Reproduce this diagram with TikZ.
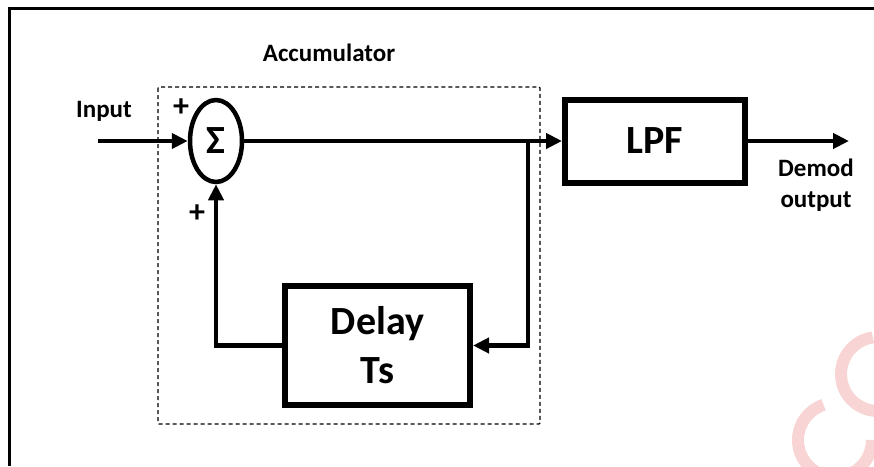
\documentclass[tikz,border=0pt]{standalone}
\usepackage{fontspec}
\setmainfont{Carlito}
\usetikzlibrary{shapes.geometric,arrows.meta}
\definecolor{wmpink}{RGB}{248,212,212}
\tikzset{
  conn/.style={line width=4.5pt, -{Triangle[length=16pt,width=15pt]}},
  block/.style={draw, line width=6pt, rectangle, font=\fontsize{40}{44}\selectfont\bfseries, align=center},
  lbl/.style={font=\fontsize{25}{31}\selectfont\bfseries, align=center, inner sep=0pt},
  sign/.style={font=\fontsize{32}{34}\selectfont\bfseries, inner sep=0pt},
}
\begin{document}
\begin{tikzpicture}[x=1pt, y=-1pt]
  \useasboundingbox (0,0) rectangle (874,466);
  % page frame (open on the right and bottom)
  \draw[line width=3pt] (9,466) -- (9,8) -- (874,8);
  % faint logo mark in the lower right corner
  \draw[wmpink, line width=12pt] (835,440) ++(0:37) arc[start angle=0, end angle=252, radius=37];
  \draw[wmpink, line width=12pt] (878,374) ++(80:37) arc[start angle=80, end angle=262, radius=37];
  % accumulator region
  \draw[line width=1.3pt, dash pattern=on 4pt off 3pt, rounded corners=1pt] (158,87) rectangle (540,424);
  \node[lbl] (acc) at (329,53) {Accumulator};
  % blocks
  \node[draw, ellipse, line width=4.5pt, minimum width=52pt, minimum height=82pt, inner sep=0pt,
        font=\fontsize{40}{44}\selectfont\bfseries] (sum) at (216,141) {Σ};
  \node[block, minimum width=180pt, minimum height=83pt] (lpf) at (655,141) {LPF};
  \node[block, minimum width=185pt, minimum height=119pt, font=\fontsize{40}{49}\selectfont\bfseries] (delay) at (377.5,345.5) {Delay\\Ts};
  % labels
  \node[lbl] (inlbl) at (104,111) {Input};
  \node[sign] (p1) at (181,108) {+};
  \node[sign] (p2) at (197,214) {+};
  \node[lbl] (outlbl) at (816,185) {Demod\\output};
  % connection points
  \coordinate (in) at (98,141);
  \coordinate (br) at (528,141);
  \coordinate (out) at (849,141);
  % signal paths
  \draw[conn] (in) -- (sum.west);
  \draw[conn] (sum.east) -- (sum.east -| lpf.west);
  \draw[conn] (lpf.east) -- (out);
  \draw[conn] (br) |- (delay.east);
  \draw[conn] (delay.west) -| (sum.south);
\end{tikzpicture}
\end{document}
